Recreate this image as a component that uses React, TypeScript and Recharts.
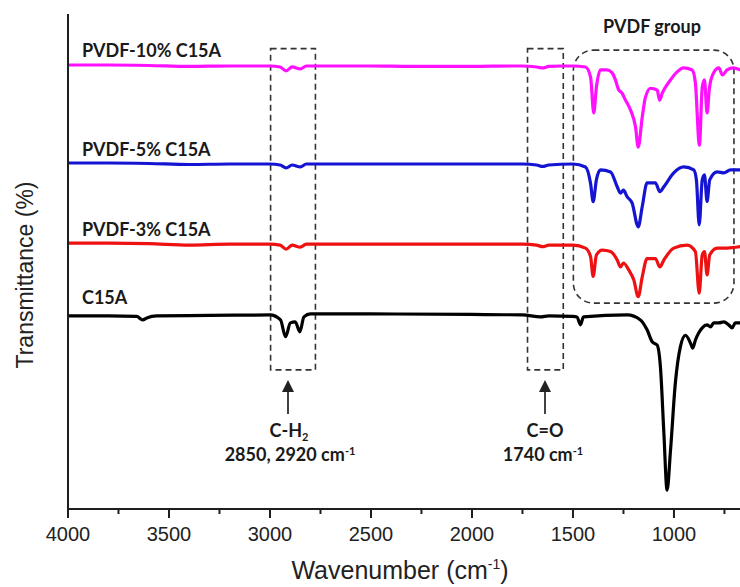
import React from 'react';
import { ComposedChart, Line, XAxis, YAxis, ReferenceArea } from 'recharts';

// [wavenumber cm-1, transmittance (arb. %)]
const pvdf10: [number, number][] = [
  [4000, 89.7], [3800, 89.7], [3600, 89.6], [3400, 89.4], [3200, 89.5], [3000, 89.5], [2950, 89.3],
  [2920, 88.5], [2890, 89.3], [2850, 88.9], [2820, 89.5], [2700, 89.5], [2500, 89.5], [2300, 89.4],
  [2000, 89.4], [1800, 89.5], [1750, 89.5], [1700, 89.4], [1680, 89.3], [1650, 89.1], [1620, 89.4],
  [1550, 89.5], [1500, 89.5], [1438, 89.3], [1413, 87.3], [1397, 80.0], [1384, 85.2], [1364, 88.7],
  [1331, 88.7], [1306, 88.1], [1290, 86.7], [1275, 84.8], [1257, 84.0], [1240, 82.6], [1215, 80.6],
  [1190, 77.1], [1177, 73.1], [1157, 79.2], [1141, 83.2], [1116, 85.0], [1083, 84.6], [1071, 82.6],
  [1058, 84.0], [1017, 86.7], [984, 88.3], [953, 89.1], [910, 88.7], [894, 86.1], [874, 73.5],
  [860, 85.2], [849, 86.7], [836, 80.0], [824, 85.2], [804, 88.1], [778, 89.1], [760, 87.7],
  [737, 88.7], [706, 89.1], [671, 88.7],
];

const pvdf5: [number, number][] = [
  [4000, 69.9], [3800, 69.9], [3600, 69.8], [3400, 69.6], [3200, 69.7], [3000, 69.7], [2950, 69.5],
  [2920, 68.9], [2890, 69.5], [2850, 69.1], [2820, 69.7], [2500, 69.7], [2000, 69.7], [1750, 69.7],
  [1680, 69.5], [1650, 69.2], [1620, 69.5], [1500, 69.7], [1438, 69.1], [1413, 65.8], [1400, 62.1],
  [1384, 66.5], [1364, 68.5], [1314, 68.1], [1281, 65.1], [1265, 63.8], [1250, 64.4], [1232, 63.1],
  [1207, 61.8], [1177, 57.0], [1157, 61.1], [1133, 65.9], [1092, 65.9], [1070, 64.1], [1050, 65.1],
  [1001, 67.9], [951, 69.1], [902, 68.5], [889, 66.5], [875, 57.4], [860, 66.5], [849, 67.5],
  [836, 62.1], [823, 66.5], [786, 68.1], [753, 67.9], [720, 68.5], [671, 68.5],
];

const pvdf3: [number, number][] = [
  [4000, 53.7], [3800, 53.7], [3600, 53.6], [3400, 53.3], [3200, 53.5], [3000, 53.5], [2950, 53.3],
  [2920, 52.5], [2890, 53.3], [2850, 52.9], [2820, 53.5], [2500, 53.5], [2000, 53.5], [1750, 53.5],
  [1680, 53.3], [1650, 53.0], [1620, 53.3], [1500, 53.3], [1438, 52.7], [1413, 51.0], [1400, 47.0],
  [1384, 51.3], [1355, 52.3], [1314, 52.0], [1281, 50.3], [1265, 48.9], [1250, 49.7], [1224, 48.3],
  [1199, 46.3], [1177, 42.9], [1157, 46.9], [1133, 50.6], [1092, 50.6], [1070, 48.9], [1050, 50.3],
  [1001, 52.7], [935, 53.3], [894, 52.0], [875, 43.6], [860, 51.3], [849, 52.0], [836, 47.3],
  [823, 51.3], [786, 52.7], [737, 52.7], [671, 53.0],
];

const c15a: [number, number][] = [
  [4000, 39.0], [3800, 39.0], [3660, 38.9], [3630, 38.2], [3610, 38.6], [3560, 39.0], [3300, 39.1],
  [3000, 39.2], [2948, 38.2], [2923, 34.8], [2899, 37.6], [2875, 37.8], [2852, 35.8], [2832, 38.8],
  [2800, 39.4], [2500, 39.4], [2000, 39.3], [1750, 39.2], [1660, 38.8], [1620, 39.0], [1500, 38.9],
  [1480, 38.8], [1463, 37.2], [1448, 38.8], [1232, 39.2], [1166, 38.2], [1133, 36.2], [1108, 33.8],
  [1083, 33.1], [1067, 28.7], [1050, 15.4], [1034, 3.8], [1017, 11.9], [993, 25.5], [968, 32.8],
  [943, 35.1], [918, 33.5], [907, 32.5], [894, 34.1], [877, 35.6], [860, 36.6], [836, 37.2],
  [819, 36.8], [803, 37.6], [778, 37.6], [753, 37.8], [729, 37.2], [712, 36.6], [696, 37.6],
  [671, 37.6],
];

const xTicks = [4000, 3750, 3500, 3250, 3000, 2750, 2500, 2250, 2000, 1750, 1500, 1250, 1000, 750];

const toRows = (pts: [number, number][]) => pts.map(([wn, t]) => ({ wn, t }));

const AXIS = '#1e1e1e';
const SANS = '"Liberation Sans", Arial, sans-serif';
const BOLD = 'Lato, "Open Sans", sans-serif';

const XTick = (props: any) => {
  const { x, y, payload } = props;
  const major = payload.value % 500 === 0;
  return (
    <g>
      <line x1={x} x2={x} y1={y} y2={y + (major ? 9 : 5)} stroke={AXIS} strokeWidth={2} />
      {major && (
        <text x={x} y={y + 32} textAnchor="middle" fontSize={20} fontFamily={SANS} fill="#222">
          {payload.value}
        </text>
      )}
    </g>
  );
};

const DashBox = (rx: number) => (p: any) => (
  <rect x={p.x} y={p.y} width={p.width} height={p.height} rx={rx} ry={rx}
    fill="none" stroke="#333" strokeWidth={1.6} strokeDasharray="6 4" />
);

const Arrow = ({ x }: { x: number }) => (
  <g>
    <line x1={x} x2={x} y1={390} y2={414} stroke="#222" strokeWidth={1.7} />
    <polygon points={`${x},380 ${x - 6},392 ${x + 6},392`} fill="#222" />
  </g>
);

export default function App() {
  return (
    <div style={{ position: 'absolute', left: 0, top: 0, width: 740, height: 587, overflow: 'hidden', background: '#fff' }}>
      <ComposedChart width={800} height={587} margin={{ top: 14, right: 0, bottom: 0, left: 0 }}>
        <XAxis xAxisId="b" type="number" dataKey="wn" domain={[376, 4000]} reversed allowDataOverflow
          ticks={xTicks} interval={0} tick={<XTick />} tickLine={false} tickSize={0} tickMargin={0}
          height={78} axisLine={{ stroke: AXIS, strokeWidth: 2 }} />
        <XAxis xAxisId="t" orientation="top" type="number" domain={[376, 4000]} reversed allowDataOverflow
          height={0} tick={false} tickLine={false} axisLine={{ stroke: AXIS, strokeWidth: 2 }} />
        <YAxis type="number" domain={[0, 100]} width={68} tick={false} tickLine={false}
          axisLine={{ stroke: AXIS, strokeWidth: 2 }} allowDataOverflow />

        <ReferenceArea xAxisId="b" x1={2997} x2={2775} y1={28.1} y2={93.0} shape={DashBox(0)} />
        <ReferenceArea xAxisId="b" x1={1725} x2={1548} y1={28.1} y2={93.0} shape={DashBox(0)} />
        <ReferenceArea xAxisId="b" x1={1498} x2={703} y1={41.6} y2={92.7} shape={DashBox(20)} />

        <Line xAxisId="b" data={toRows(c15a)} dataKey="t" type="monotone" stroke="#000000" strokeWidth={3.2} dot={false} isAnimationActive={false} />
        <Line xAxisId="b" data={toRows(pvdf3)} dataKey="t" type="monotone" stroke="#ee1111" strokeWidth={3.2} dot={false} isAnimationActive={false} />
        <Line xAxisId="b" data={toRows(pvdf5)} dataKey="t" type="monotone" stroke="#1414d2" strokeWidth={3.2} dot={false} isAnimationActive={false} />
        <Line xAxisId="b" data={toRows(pvdf10)} dataKey="t" type="monotone" stroke="#ff10ff" strokeWidth={3.2} dot={false} isAnimationActive={false} />

        <g fontFamily={BOLD} fontWeight={700} fontSize={18} fill="#1a1a1a">
          <text x={82} y={57}>PVDF-10% C15A</text>
          <text x={82} y={156}>PVDF-5% C15A</text>
          <text x={82} y={236}>PVDF-3% C15A</text>
          <text x={82} y={304}>C15A</text>
          <text x={652} y={33} textAnchor="middle">PVDF group</text>
          <text x={289} y={437} textAnchor="middle">C-H<tspan dy={4} fontSize={11}>2</tspan></text>
          <text x={290} y={461} textAnchor="middle">2850, 2920 cm<tspan dy={-6} fontSize={11}>-1</tspan></text>
          <text x={545} y={437} textAnchor="middle">C=O</text>
          <text x={543} y={461} textAnchor="middle">1740 cm<tspan dy={-6} fontSize={11}>-1</tspan></text>
        </g>
        <Arrow x={288} />
        <Arrow x={545} />

        <text x={33} y={275} transform="rotate(-90 33 275)" textAnchor="middle" fontSize={23} fontFamily={SANS} fill="#222">
          Transmittance (%)
        </text>
        <text x={400} y={579} textAnchor="middle" fontSize={25} fontFamily={SANS} fill="#222">
          Wavenumber (cm<tspan dy={-10} fontSize={14}>-1</tspan><tspan dy={10}>)</tspan>
        </text>
      </ComposedChart>
    </div>
  );
}
